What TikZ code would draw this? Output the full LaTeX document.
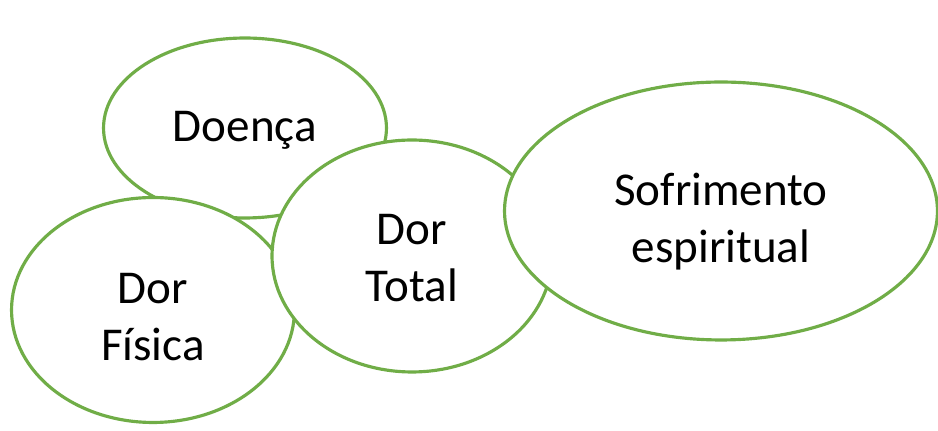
\documentclass[tikz,border=0pt]{standalone}
\usepackage{fontspec}
\setmainfont{Carlito}
\usetikzlibrary{shapes.geometric}
\definecolor{folha}{RGB}{112,173,71}

\begin{document}
\begin{tikzpicture}[x=0.02cm, y=-0.02cm,
	bolha/.style={ellipse, draw=folha, line width=1.8pt, fill=white,
		inner sep=0pt},
	rotulo/.style={align=center, font=\fontsize{26.8}{32.5}\selectfont}]
	\useasboundingbox (0,0) rectangle (938,431);
	\node [bolha, minimum width=5.66cm, minimum height=3.6cm]
		(1) at (245,128) {};
	\node [rotulo] (1t) at ([yshift=-0.04cm]1.center) {Doença};
	\node [bolha, minimum width=5.66cm, minimum height=4.5cm]
		(2) at (153,310) {};
	\node [rotulo] (2t) at ([yshift=-0.14cm]2.center) {Dor\\Física};
	\node [bolha, minimum width=5.6cm, minimum height=4.64cm]
		(3) at (412,256) {};
	\node [rotulo] (3t) at ([yshift=-0.04cm]3.center) {Dor\\Total};
	\node [bolha, minimum width=8.66cm, minimum height=5.16cm]
		(4) at (721,211) {};
	\node [rotulo] (4t) at ([yshift=-0.22cm]4.center) {Sofrimento\\espiritual};
\end{tikzpicture}
\end{document}
